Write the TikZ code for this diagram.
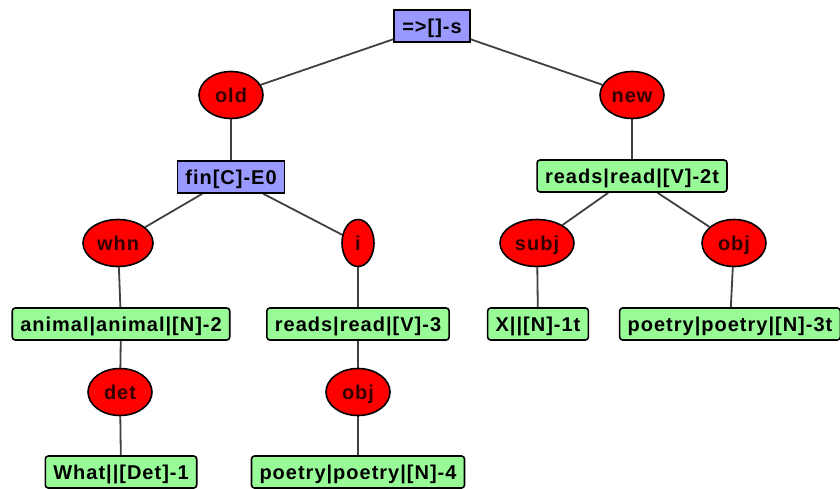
\documentclass[tikz,border=0pt]{standalone}
\usepackage{fontspec}
\setmainfont{Liberation Sans}
\usepackage{xcolor}
\usepackage{tikz}
\usetikzlibrary{shapes,backgrounds}
\definecolor{headblue}{RGB}{153,153,255}
\definecolor{wordgreen}{RGB}{152,251,152}
\definecolor{relred}{RGB}{255,0,0}
\definecolor{edgegray}{RGB}{64,64,64}
\tikzstyle{everynode}=[font=\bfseries\fontsize{20}{20}\selectfont\addfontfeature{LetterSpace=5},line width=1.6pt,text height=14pt,text depth=0pt]
\tikzstyle{head}=[everynode,draw=black,fill=headblue,inner xsep=8pt,minimum height=32pt]
\tikzstyle{word}=[everynode,draw=black,fill=wordgreen,rounded corners=3pt,inner xsep=8pt,minimum height=32pt]
\tikzstyle{rel}=[everynode,ellipse,draw=black,fill=relred,text=black!80!red,inner sep=0pt,minimum height=47pt,minimum width=64pt]
\tikzstyle{link}=[draw=edgegray,line width=1.8pt]

\begin{document}
\begin{tikzpicture}[x=1pt,y=-1pt]
    \useasboundingbox (0,0) rectangle (840,488);
    % heads
    \node[head] (root) at (432,26) {=>[]-s};
    \node[rel] (old) at (231,95) {old};
    \node[rel] (new) at (632,95) {new};
    \node[head] (fin) at (231,177) {fin[C]-E0};
    \node[word] (reads2t) at (632,176) {reads|read|[V]-2t};
    % second level
    \node[rel,minimum width=70pt] (whn) at (118,243) {whn};
    \node[rel,minimum width=32pt] (i) at (358,243) {i};
    \node[rel,minimum width=74pt] (subj) at (537,243) {subj};
    \node[rel] (obj3t) at (734,243) {obj};
    \node[word] (animal) at (121,324) {animal|animal|[N]-2};
    \node[word] (reads3) at (358,324) {reads|read|[V]-3};
    \node[word] (x1t) at (538,324) {X||[N]-1t};
    \node[word] (poetry3t) at (730,324) {poetry|poetry|[N]-3t};
    % leaves
    \node[rel] (det) at (120,392) {det};
    \node[rel] (obj4) at (358,392) {obj};
    \node[word] (what) at (121,472) {What||[Det]-1};
    \node[word] (poetry4) at (358,472) {poetry|poetry|[N]-4};
    \begin{scope}[on background layer]
    \draw[link] (root) -- (old);
    \draw[link] (root) -- (new);
    \draw[link] (old) -- (fin);
    \draw[link] (new) -- (reads2t);
    \draw[link] (fin) -- (whn);
    \draw[link] (fin) -- (i);
    \draw[link] (reads2t) -- (subj);
    \draw[link] (reads2t) -- (obj3t);
    \draw[link] (whn) -- (animal);
    \draw[link] (i) -- (reads3);
    \draw[link] (subj) -- (x1t);
    \draw[link] (obj3t) -- (poetry3t);
    \draw[link] (animal) -- (det);
    \draw[link] (reads3) -- (obj4);
    \draw[link] (det) -- (what);
    \draw[link] (obj4) -- (poetry4);
    \end{scope}
\end{tikzpicture}
\end{document}
